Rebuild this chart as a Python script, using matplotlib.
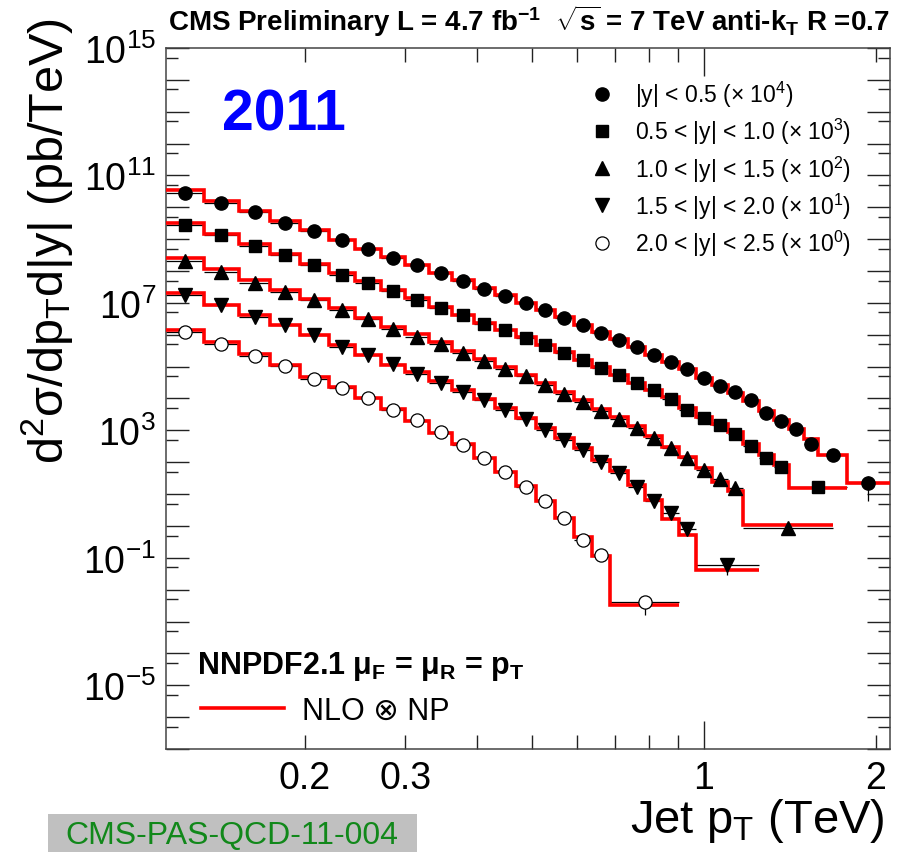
import numpy as np
import matplotlib
matplotlib.use("Agg")
import matplotlib.pyplot as plt
from matplotlib.lines import Line2D
from matplotlib.patches import Rectangle
from matplotlib.ticker import FixedLocator, FuncFormatter

plt.rcParams['font.family'] = ['Liberation Sans', 'DejaVu Sans']
plt.rcParams['mathtext.fontset'] = 'custom'
plt.rcParams['mathtext.rm'] = 'Liberation Sans'
plt.rcParams['mathtext.it'] = 'Liberation Sans:italic'
plt.rcParams['mathtext.bf'] = 'Liberation Sans:bold'

# jet pT bin edges (TeV)
pt_edges = [0.114, 0.133, 0.153, 0.174, 0.196, 0.220, 0.245, 0.272, 0.300, 0.330,
            0.362, 0.395, 0.430, 0.468, 0.507, 0.548, 0.592, 0.638, 0.686, 0.737,
            0.790, 0.846, 0.905, 0.967, 1.032, 1.101, 1.172, 1.248, 1.327, 1.410,
            1.497, 1.588, 1.684, 1.784, 1.890, 2.000, 2.116]

# per-rapidity binning: regular bins up to some edge, then merged high-pT bins
edges_y0 = pt_edges[:32] + [1.784, 2.116]
edges_y1 = pt_edges[:30] + [1.784]
edges_y2 = pt_edges[:27] + [1.684]
edges_y3 = pt_edges[:24] + [1.248]
edges_y4 = pt_edges[:19] + [0.905]

# measured d2sigma/dpT d|y| (pb/TeV), unscaled
data_y0 = [2.85e6, 1.41e6, 6.9e5, 3.27e5, 1.74e5, 9.1e4, 4.9e4, 2.61e4, 1.50e4, 8.65e3,
           4.86e3, 2.79e3, 1.60e3, 993, 582, 337, 197, 116, 70.1, 41.5, 22.6, 14.0, 8.22,
           4.52, 2.48, 1.61, 0.88, 0.361, 0.193, 0.108, 0.0385, 0.0166, 0.00226]
data_y1 = [2.69e6, 1.31e6, 6.08e5, 3.08e5, 1.57e5, 7.66e4, 4.30e4, 2.36e4, 1.26e4, 7.08e3,
           4.06e3, 2.23e3, 1.37e3, 794, 466, 269, 158, 93.1, 53.3, 30.8, 19.0, 9.44, 4.27,
           2.47, 1.52, 0.794, 0.327, 0.137, 0.0718, 0.0169]
data_y2 = [2.06e6, 9.31e5, 4.30e5, 2.20e5, 1.20e5, 5.82e4, 3.04e4, 1.55e4, 8.53e3, 5.26e3,
           2.69e3, 1.47e3, 822, 497, 273, 143, 78.2, 39.7, 23.4, 12.2, 5.65, 2.69, 1.31,
           0.561, 0.287, 0.150, 0.00836]
data_y3 = [1.72e6, 8.36e5, 3.61e5, 1.97e5, 9.57e4, 4.15e4, 2.26e4, 1.24e4, 6.04e3, 3.08e3,
           1.61e3, 879, 449, 223, 106, 51.5, 23.8, 10.3, 4.58, 1.69, 0.608, 0.247, 0.0805,
           0.0059]
data_y4 = [1.19e6, 5.07e5, 2.21e5, 1.04e5, 4.21e4, 2.15e4, 1.04e4, 4.27e3, 2.18e3, 898,
           351, 131, 51.0, 16.9, 5.98, 1.72, 0.359, 0.119, 0.00421]

# NNPDF2.1 NLO x NP prediction, same binning
nlo_y0 = [3.37e6, 1.52e6, 7.38e5, 3.59e5, 1.87e5, 9.57e4, 5.00e4, 2.75e4, 1.50e4, 8.85e3,
          5.07e3, 2.93e3, 1.72e3, 1.01e3, 582, 361, 207, 122, 71.8, 41.5, 23.8, 14.0, 8.22,
          4.52, 2.59, 1.53, 0.817, 0.397, 0.218, 0.114, 0.0553, 0.0174, 0.00226]
nlo_y1 = [3.27e6, 1.40e6, 6.82e5, 3.31e5, 1.69e5, 8.65e4, 4.72e4, 2.59e4, 1.43e4, 7.60e3,
          4.27e3, 2.39e3, 1.45e3, 841, 490, 285, 166, 96.4, 56.1, 31.5, 19.0, 11.5, 5.19,
          2.71, 1.63, 0.916, 0.385, 0.166, 0.0805, 0.0157]
nlo_y2 = [2.61e6, 1.18e6, 5.33e5, 2.59e5, 1.29e5, 6.92e4, 3.44e4, 1.76e4, 1.03e4, 6.08e3,
          3.18e3, 1.72e3, 964, 561, 315, 164, 89.1, 46.6, 26.1, 13.6, 6.73, 3.04, 1.48,
          0.635, 0.243, 0.123, 0.0106]
nlo_y3 = [2.09e6, 8.79e5, 4.06e5, 1.97e5, 9.57e4, 4.66e4, 2.26e4, 1.16e4, 6.73e3, 3.64e3,
          1.90e3, 993, 500, 252, 122, 57.4, 26.9, 11.7, 5.30, 1.90, 0.630, 0.166, 0.0522,
          0.00411]
nlo_y4 = [1.37e6, 5.94e5, 2.56e5, 1.10e5, 4.86e4, 2.36e4, 1.07e4, 4.66e3, 2.03e3, 853,
          359, 136, 51.0, 17.9, 6.08, 1.78, 0.452, 0.115, 0.00329]

# relative (down, up) uncertainty on the highest-pT point of each rapidity bin
last_err = [(0.74, 0.58), (0.25, 0.25), (0.3, 0.3), (0.51, 0.31), (0.62, 0.47)]

scale_exp = [4, 3, 2, 1, 0]
y_labels = ["|y| < 0.5", "0.5 < |y| < 1.0", "1.0 < |y| < 1.5",
            "1.5 < |y| < 2.0", "2.0 < |y| < 2.5"]

edges_all = [edges_y0, edges_y1, edges_y2, edges_y3, edges_y4]
data_all = [data_y0, data_y1, data_y2, data_y3, data_y4]
nlo_all = [nlo_y0, nlo_y1, nlo_y2, nlo_y3, nlo_y4]
mstyle = [dict(marker='o', ms=9.5, mfc='black'),
          dict(marker='s', ms=9, mfc='black'),
          dict(marker='^', ms=9.5, mfc='black'),
          dict(marker='v', ms=9.5, mfc='black'),
          dict(marker='o', ms=9.5, mfc='white', mew=0.9)]

fig = plt.figure(figsize=(9.07, 8.53), dpi=100)
ax = fig.add_axes([0.1827, 0.1208, 0.7981, 0.8218])
ax.set_xscale('log')
ax.set_yscale('log')

for i in range(5):
    edges = np.array(edges_all[i])
    f = 10.0 ** scale_exp[i]
    y = np.array(data_all[i]) * f
    x = np.sqrt(edges[:-1] * edges[1:])
    yerr = np.zeros((2, len(y)))
    yerr[0, -1] = y[-1] * last_err[i][0]
    yerr[1, -1] = y[-1] * last_err[i][1]
    ax.errorbar(x, y, xerr=[x - edges[:-1], edges[1:] - x], yerr=yerr,
                fmt='none', ecolor='black', elinewidth=0.9, zorder=2)
    ax.stairs(np.array(nlo_all[i]) * f, edges, baseline=None,
              color='#ff0000', lw=2.6, zorder=3)
    ax.plot(x, y, ls='none', mec='black', zorder=4, **mstyle[i])

ax.set_xlim(0.114, 2.116)
ax.set_ylim(1e-7, 1e15)

# ticks: ROOT-like inward ticks on all four sides
ax.xaxis.set_major_locator(FixedLocator([1.0]))
ax.xaxis.set_major_formatter(FuncFormatter(lambda v, p: "1"))
minor_x = [0.2, 0.3, 0.4, 0.5, 0.6, 0.7, 0.8, 0.9, 2.0]
ax.set_xticks(minor_x, labels=["0.2", "0.3", "", "", "", "", "", "", "2"], minor=True)

ax.yaxis.set_major_locator(FixedLocator(10.0 ** np.arange(-7, 16)))
ax.yaxis.set_minor_locator(FixedLocator(5 * 10.0 ** np.arange(-8, 15)))


def ylab(v, pos):
    e = int(round(np.log10(v)))
    return f"$10^{{{e}}}$" if (e - 3) % 4 == 0 else ""


ax.yaxis.set_major_formatter(FuncFormatter(ylab))
ax.yaxis.set_minor_formatter(FuncFormatter(lambda v, p: ""))

ax.tick_params(axis='both', which='both', direction='in', top=True, right=True,
               colors='#222222', labelcolor='black', width=1.0)
ax.tick_params(axis='x', which='major', length=20, labelsize=27, pad=8)
ax.tick_params(axis='x', which='minor', length=10, labelsize=27, pad=8)
ax.tick_params(axis='y', which='major', length=16.5, labelsize=27, pad=7)
ax.tick_params(axis='y', which='minor', length=8.5)
for s in ax.spines.values():
    s.set_color('#444444')
    s.set_linewidth(1.1)

# axis titles
fig.text(47 / 907, 1 - 18 / 853, r"d$^{2}$σ/dp$_{\mathrm{T}}$d|y| (pb/TeV)", rotation=90,
         ha='center', va='top', fontsize=35)
fig.text(885 / 907, 1 - 833 / 853, r"Jet p$_{\mathrm{T}}$ (TeV)", ha='right',
         va='baseline', fontsize=34)

# header
fig.text(168 / 907, 1 - 31 / 853,
         r"CMS Preliminary L = 4.7 fb$^{\mathbf{-1}}$  $\sqrt{\mathbf{s}}$ = 7 TeV anti-k$_{\mathbf{T}}$ R =0.7",
         ha='left', va='baseline', fontsize=20, fontweight='bold')

ax.text(0.078, 0.905, "2011", transform=ax.transAxes, color='#0000ff',
        fontsize=41, fontweight='bold', ha='left', va='center')

# rapidity legend
handles = [Line2D([], [], ls='none', mec='black', **mstyle[i]) for i in range(5)]
labels = [f"{y_labels[i]} ($\\times$ 10$^{{{scale_exp[i]}}}$)" for i in range(5)]
leg = fig.legend(handles, labels, loc='upper left', bbox_to_anchor=(0.651, 0.906),
                 frameon=False, fontsize=16.5, handlelength=1.0, handletextpad=0.95,
                 labelspacing=0.3, borderpad=0, borderaxespad=0)

# theory legend
ax.text(0.0432, 0.108, r"NNPDF2.1 μ$_{\mathbf{F}}$ = μ$_{\mathbf{R}}$ = p$_{\mathbf{T}}$",
        transform=ax.transAxes, fontsize=22, fontweight='bold', ha='left', va='baseline')
ax.legend([Line2D([], [], color='#ff0000', lw=2.6)], ["NLO ⊗ NP"],
          loc='center left', bbox_to_anchor=(0.049, 0.054), frameon=False,
          fontsize=22, handlelength=2.7, handletextpad=0.6, borderpad=0, borderaxespad=0)

# document tag
fig.add_artist(Rectangle((48 / 907, 0), (417 - 48) / 907, 38 / 853,
                         transform=fig.transFigure, facecolor='#c0c0c0', edgecolor='none'))
fig.text(232 / 907, 17 / 853, "CMS-PAS-QCD-11-004", ha='center', va='center',
         fontsize=23, color='#11881a')

fig.savefig("out.png", dpi=100)
